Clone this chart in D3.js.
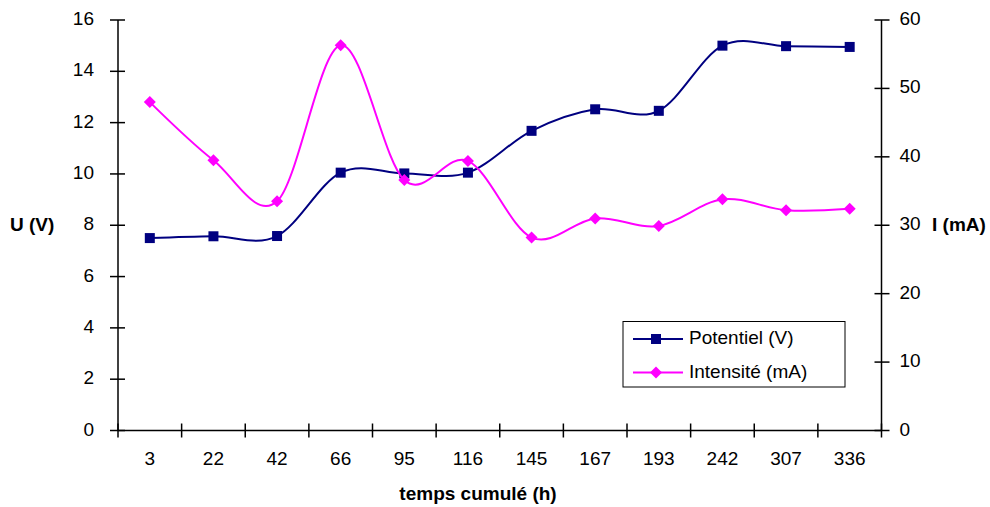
<!DOCTYPE html>
<html><head><meta charset="utf-8">
<script src="https://cdn.jsdelivr.net/npm/d3@7"></script>
<style>html,body{margin:0;padding:0;background:#fff;}svg{display:block;font-family:"Liberation Sans",Arial,sans-serif;}</style>
</head><body><svg id="c" width="990" height="507"></svg>
<script>
const categories = ["3","22","42","66","95","116","145","167","193","242","307","336"];
const potentiel = [7.5,7.57,7.58,10.05,10.02,10.05,11.68,12.52,12.46,15.0,14.98,14.95];
const intensite = [48.0,39.5,33.5,56.3,36.6,39.4,28.2,31.0,29.9,33.8,32.2,32.4];
const leftTicks = [0,2,4,6,8,10,12,14,16];
const rightTicks = [0,10,20,30,40,50,60];
const seriesNames = ["Potentiel (V)","Intensité (mA)"];
const colors = ["#000080","#FF00FF"];

const svg = d3.select("#c");
const L = 118, R = 881.5, T = 20, B = 430.5;
const x = d3.scaleBand().domain(categories).range([L, R]);
const yL = d3.scaleLinear().domain([0,16]).range([B, T]);
const yR = d3.scaleLinear().domain([0,60]).range([B, T]);
const fs = 19;

// x axis
const gx = svg.append("g").attr("transform",`translate(0,${B})`);
gx.append("line").attr("x1",L).attr("x2",R).attr("stroke","#000").attr("stroke-width",1.5);
const xt = d3.range(categories.length+1).map(i=>L + i*x.bandwidth());
gx.selectAll(".t").data(xt).enter().append("line")
  .attr("x1",d=>d).attr("x2",d=>d).attr("y1",-7).attr("y2",7).attr("stroke","#000").attr("stroke-width",1.5);
gx.selectAll(".l").data(categories).enter().append("text")
  .attr("x",d=>x(d)+x.bandwidth()/2).attr("y",29).attr("text-anchor","middle")
  .attr("dominant-baseline","middle").attr("font-size",fs).text(d=>d);

// left axis
const gl = svg.append("g");
gl.append("line").attr("x1",L).attr("x2",L).attr("y1",T).attr("y2",B).attr("stroke","#000").attr("stroke-width",1.5);
gl.selectAll(".t").data(leftTicks).enter().append("line")
  .attr("x1",L-8).attr("x2",L+7).attr("y1",d=>yL(d)).attr("y2",d=>yL(d)).attr("stroke","#000").attr("stroke-width",1.5);
gl.selectAll(".l").data(leftTicks).enter().append("text")
  .attr("x",L-24).attr("y",d=>yL(d)).attr("text-anchor","end").attr("dominant-baseline","middle")
  .attr("font-size",fs).text(d=>d);

// right axis
const gr = svg.append("g");
gr.append("line").attr("x1",R).attr("x2",R).attr("y1",T).attr("y2",B).attr("stroke","#000").attr("stroke-width",1.5);
gr.selectAll(".t").data(rightTicks).enter().append("line")
  .attr("x1",R-7).attr("x2",R+8).attr("y1",d=>yR(d)).attr("y2",d=>yR(d)).attr("stroke","#000").attr("stroke-width",1.5);
gr.selectAll(".l").data(rightTicks).enter().append("text")
  .attr("x",R+18).attr("y",d=>yR(d)).attr("text-anchor","start").attr("dominant-baseline","middle")
  .attr("font-size",fs).text(d=>d);

// axis titles
svg.append("text").attr("x",10).attr("y",226).attr("dominant-baseline","middle")
  .attr("font-size",fs).attr("font-weight","bold").text("U (V)");
svg.append("text").attr("x",932).attr("y",226).attr("dominant-baseline","middle")
  .attr("font-size",fs).attr("font-weight","bold").text("I (mA)");
svg.append("text").attr("x",478).attr("y",495).attr("text-anchor","middle").attr("dominant-baseline","middle")
  .attr("font-size",fs).attr("font-weight","bold").text("temps cumulé (h)");

const cx = d => x(d)+x.bandwidth()/2;
const line = d3.line().curve(d3.curveCardinal.tension(0));

// Potentiel
const pPts = categories.map((c,i)=>[cx(c), yL(potentiel[i])]);
svg.append("path").attr("d",line(pPts)).attr("fill","none").attr("stroke",colors[0]).attr("stroke-width",2);
svg.selectAll(".sq").data(pPts).enter().append("rect")
  .attr("x",d=>d[0]-5).attr("y",d=>d[1]-5).attr("width",10).attr("height",10).attr("fill",colors[0]);

// Intensite
const iPts = categories.map((c,i)=>[cx(c), yR(intensite[i])]);
svg.append("path").attr("d",line(iPts)).attr("fill","none").attr("stroke",colors[1]).attr("stroke-width",2);
svg.selectAll(".di").data(iPts).enter().append("path")
  .attr("d","M0,-6L6,0L0,6L-6,0Z").attr("transform",d=>`translate(${d[0]},${d[1]})`).attr("fill",colors[1]);

// legend
const lg = svg.append("g");
lg.append("rect").attr("x",623).attr("y",321.5).attr("width",222).attr("height",65.5)
  .attr("fill","#fff").attr("stroke","#000").attr("stroke-width",1);
const rows = [339, 372.5];
rows.forEach((ry,i)=>{
  lg.append("line").attr("x1",633).attr("x2",683).attr("y1",ry).attr("y2",ry).attr("stroke",colors[i]).attr("stroke-width",2);
  if(i===0) lg.append("rect").attr("x",651).attr("y",ry-5).attr("width",10).attr("height",10).attr("fill",colors[0]);
  else lg.append("path").attr("d","M0,-6L6,0L0,6L-6,0Z").attr("transform",`translate(656,${ry})`).attr("fill",colors[1]);
  lg.append("text").attr("x",689).attr("y",ry).attr("dominant-baseline","middle").attr("font-size",fs).text(seriesNames[i]);
});
</script></body></html>
